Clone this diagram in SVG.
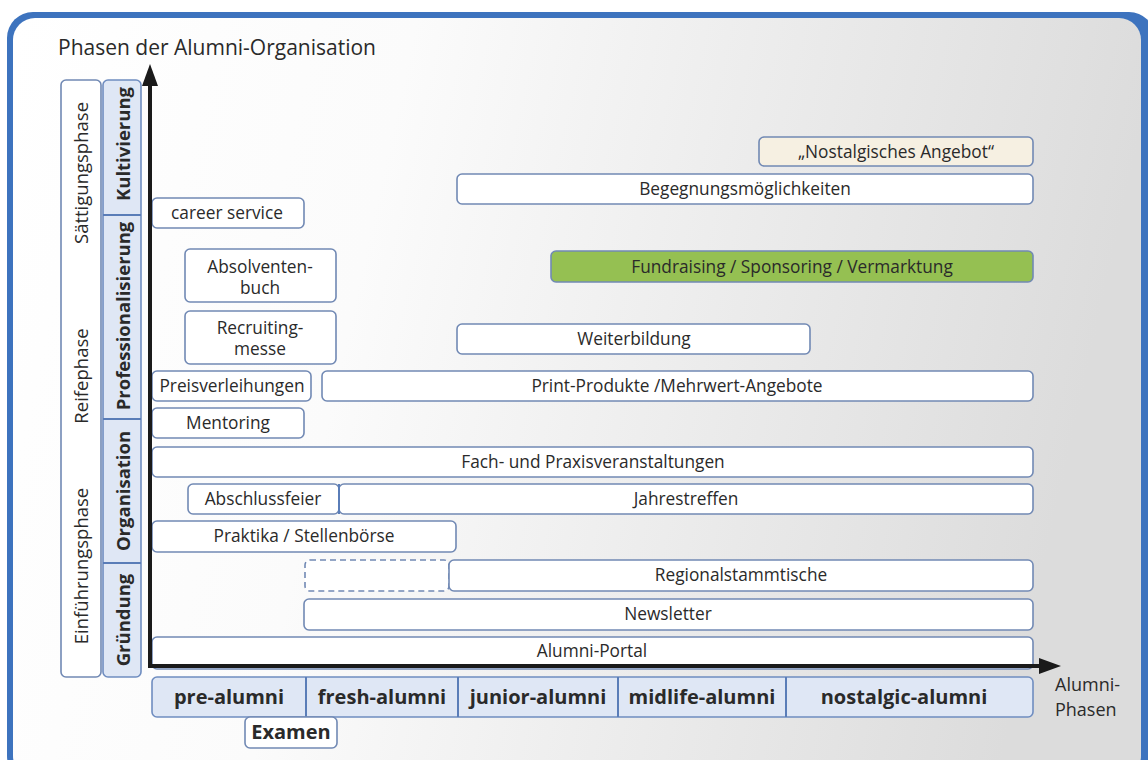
<svg xmlns="http://www.w3.org/2000/svg" width="1148" height="760" viewBox="0 0 1148 760">
  <defs>
    <linearGradient id="panelFill" x1="0" y1="0" x2="1" y2="0.15">
      <stop offset="0" stop-color="#ffffff"/>
      <stop offset="0.35" stop-color="#fbfbfb"/>
      <stop offset="1" stop-color="#dcdcdc"/>
    </linearGradient>
    <marker id="arrowHead" markerUnits="userSpaceOnUse" markerWidth="24" markerHeight="16" refX="6" refY="8" orient="auto">
      <path d="M0,0 L22,8 L0,16 z" fill="#1a1a1a"/>
    </marker>
    <style>
      .lbl { font-family: "Open Sans", "Liberation Sans", sans-serif; font-size: 17.3px; fill: #2a2a2a; text-anchor: middle; }
      .side { font-family: "Open Sans", "Liberation Sans", sans-serif; font-size: 18.5px; fill: #2a2a2a; text-anchor: middle; }
      .stage { font-family: "Open Sans", "Liberation Sans", sans-serif; font-size: 18.5px; font-weight: bold; fill: #2a2a2a; text-anchor: middle; }
      .bold { font-family: "Open Sans", "Liberation Sans", sans-serif; font-size: 20px; font-weight: bold; fill: #2a2a2a; text-anchor: middle; }
      .box { fill: #ffffff; stroke: #7189b4; stroke-width: 1.6; }
      .dash { fill: #ffffff; stroke: #7189b4; stroke-width: 1.6; stroke-dasharray: 6 4; }
      .cream { fill: #f6f0e2; stroke: #7189b4; stroke-width: 1.6; }
      .green { fill: #95c052; stroke: #7189b4; stroke-width: 1.6; }
      .tint { fill: #dfe7f5; stroke: #6f8dc0; stroke-width: 1.6; }
      .sep { stroke: #5a7db8; stroke-width: 2; }
      .axis { stroke: #1a1a1a; stroke-width: 4; fill: none; }
    </style>
  </defs>

  <!-- frame -->
  <rect x="0" y="0" width="1148" height="760" fill="#ffffff"/>
  <rect x="7" y="12" width="1148" height="770" rx="26" fill="#3d73be"/>
  <rect x="13" y="18" width="1128" height="760" rx="22" fill="url(#panelFill)"/>

  <text x="58" y="55" style="font-family: 'Open Sans', 'Liberation Sans', sans-serif; font-size: 21px; fill: #2a2a2a;">Phasen der Alumni-Organisation</text>

  <!-- phase columns on the left -->
  <g id="phase-column">
    <rect class="box" x="61" y="80" width="40" height="597" rx="5"/>
    <text class="side" transform="translate(88,173) rotate(-90)">Sättigungsphase</text>
    <text class="side" transform="translate(88,376) rotate(-90)">Reifephase</text>
    <text class="side" transform="translate(88,566) rotate(-90)">Einführungsphase</text>
  </g>

  <g id="stage-column">
    <rect class="tint" x="103" y="80" width="38" height="597" rx="5"/>
    <line class="sep" x1="103" y1="215" x2="141" y2="215"/>
    <line class="sep" x1="103" y1="419" x2="141" y2="419"/>
    <line class="sep" x1="103" y1="563" x2="141" y2="563"/>
    <text class="stage" transform="translate(130,144) rotate(-90)">Kultivierung</text>
    <text class="stage" transform="translate(130,316) rotate(-90)">Professionalisierung</text>
    <text class="stage" transform="translate(130,491) rotate(-90)">Organisation</text>
    <text class="stage" transform="translate(130,620) rotate(-90)">Gründung</text>
  </g>

  <!-- offers -->
  <g id="nostalgisches-angebot">
    <rect class="cream" x="759" y="137" width="274" height="29" rx="5"/>
    <text class="lbl" x="896" y="158">„Nostalgisches Angebot“</text>
  </g>
  <g id="begegnungsmoeglichkeiten">
    <rect class="box" x="457" y="174" width="576" height="30" rx="5"/>
    <text class="lbl" x="745" y="195">Begegnungsmöglichkeiten</text>
  </g>
  <g id="career-service">
    <rect class="box" x="152" y="198" width="152" height="30" rx="5"/>
    <text class="lbl" x="227" y="219">career service</text>
  </g>
  <g id="absolventenbuch">
    <rect class="box" x="185" y="249" width="151" height="53" rx="5"/>
    <text class="lbl" x="260" y="273">Absolventen-</text>
    <text class="lbl" x="260" y="294">buch</text>
  </g>
  <g id="fundraising">
    <rect class="green" x="551" y="251" width="482" height="31" rx="5"/>
    <text class="lbl" x="792" y="273">Fundraising / Sponsoring / Vermarktung</text>
  </g>
  <g id="recruitingmesse">
    <rect class="box" x="185" y="311" width="151" height="53" rx="5"/>
    <text class="lbl" x="260" y="334">Recruiting-</text>
    <text class="lbl" x="260" y="355">messe</text>
  </g>
  <g id="weiterbildung">
    <rect class="box" x="457" y="324" width="353" height="30" rx="5"/>
    <text class="lbl" x="634" y="345">Weiterbildung</text>
  </g>
  <g id="preisverleihungen">
    <rect class="box" x="152" y="371" width="159" height="30" rx="5"/>
    <text class="lbl" x="232" y="392">Preisverleihungen</text>
  </g>
  <g id="print-produkte">
    <rect class="box" x="322" y="371" width="711" height="30" rx="5"/>
    <text class="lbl" x="677" y="392">Print-Produkte /Mehrwert-Angebote</text>
  </g>
  <g id="mentoring">
    <rect class="box" x="152" y="408" width="152" height="30" rx="5"/>
    <text class="lbl" x="228" y="429">Mentoring</text>
  </g>
  <g id="fach-praxis">
    <rect class="box" x="152" y="447" width="881" height="30" rx="5"/>
    <text class="lbl" x="593" y="468">Fach- und Praxisveranstaltungen</text>
  </g>
  <g id="jahrestreffen">
    <rect class="box" x="339" y="484" width="694" height="30" rx="5"/>
    <text class="lbl" x="686" y="505">Jahrestreffen</text>
  </g>
  <g id="abschlussfeier">
    <rect class="box" x="188" y="484" width="151" height="30" rx="5"/>
    <line class="sep" x1="339" y1="484" x2="339" y2="514"/>
    <text class="lbl" x="263" y="505">Abschlussfeier</text>
  </g>
  <g id="praktika">
    <rect class="box" x="152" y="521" width="304" height="31" rx="5"/>
    <text class="lbl" x="304" y="542">Praktika / Stellenbörse</text>
  </g>
  <g id="regional-vorlauf">
    <rect class="dash" x="305" y="560" width="144" height="31" rx="5"/>
  </g>
  <g id="regionalstammtische">
    <rect class="box" x="449" y="560" width="584" height="31" rx="5"/>
    <text class="lbl" x="741" y="581">Regionalstammtische</text>
  </g>
  <g id="newsletter">
    <rect class="box" x="304" y="599" width="729" height="31" rx="5"/>
    <text class="lbl" x="668" y="620">Newsletter</text>
  </g>
  <g id="alumni-portal">
    <rect class="box" x="152" y="637" width="881" height="32" rx="5"/>
    <text class="lbl" x="592" y="657">Alumni-Portal</text>
  </g>

  <!-- alumni phases along the bottom -->
  <g id="alumni-phasen-leiste">
    <rect class="tint" x="152" y="677" width="881" height="40" rx="5"/>
    <line class="sep" x1="306" y1="677" x2="306" y2="717"/>
    <line class="sep" x1="458" y1="677" x2="458" y2="717"/>
    <line class="sep" x1="618" y1="677" x2="618" y2="717"/>
    <line class="sep" x1="786" y1="677" x2="786" y2="717"/>
    <text class="bold" x="229" y="704">pre-alumni</text>
    <text class="bold" x="382" y="704">fresh-alumni</text>
    <text class="bold" x="538" y="704">junior-alumni</text>
    <text class="bold" x="702" y="704">midlife-alumni</text>
    <text class="bold" x="904" y="704">nostalgic-alumni</text>
  </g>
  <g id="examen">
    <rect class="box" x="245" y="717" width="92" height="31" rx="5"/>
    <text class="bold" x="291" y="739">Examen</text>
  </g>

  <text style="font-family: 'Open Sans', 'Liberation Sans', sans-serif; font-size: 18px; fill: #2a2a2a;"><tspan x="1055" y="691">Alumni-</tspan><tspan x="1055" y="716">Phasen</tspan></text>

  <!-- axes -->
  <g id="connectors">
    <line class="axis" x1="150" y1="668" x2="150" y2="80" marker-end="url(#arrowHead)"/>
    <line class="axis" x1="148" y1="666" x2="1045" y2="666" marker-end="url(#arrowHead)"/>
  </g>
</svg>
